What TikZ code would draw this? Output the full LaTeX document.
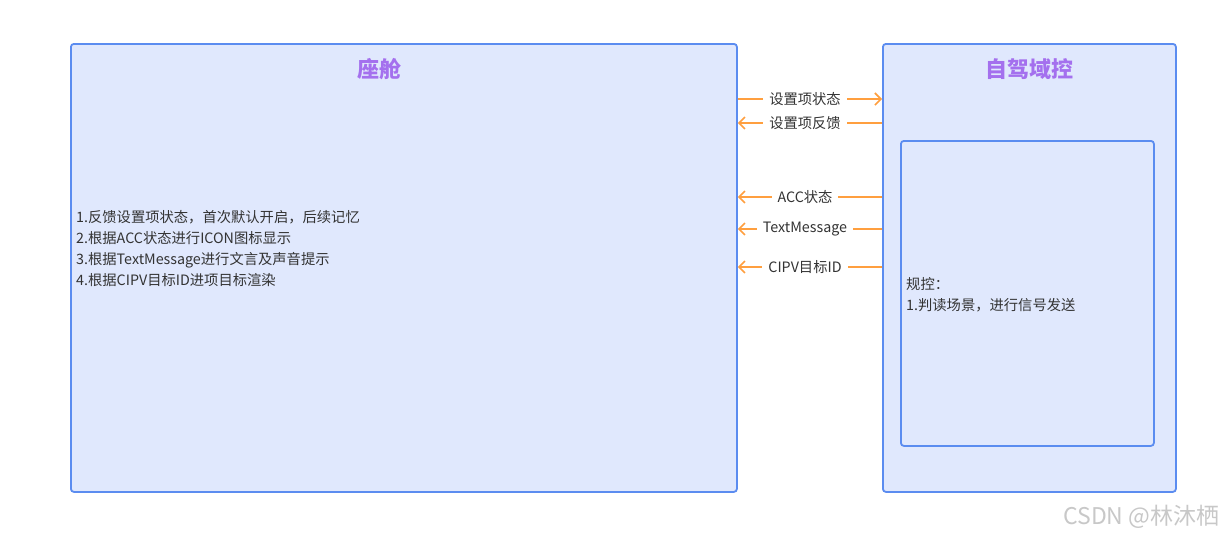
\documentclass[tikz,border=0pt]{standalone}
\usepackage{fontspec}
\setmainfont{Noto Sans CJK SC}
\newfontfamily\cjk{Noto Sans CJK SC}
\usetikzlibrary{arrows.meta}
\definecolor{boxfill}{HTML}{E0E8FD}
\definecolor{boxline}{HTML}{5B8CF0}
\definecolor{titlec}{HTML}{A470EE}
\definecolor{arrowc}{HTML}{FF9F3F}
\definecolor{txt}{HTML}{333333}
\definecolor{wm}{HTML}{C8C8C8}
\tikzset{
  panel/.style={draw=boxline,line width=1.8pt,fill=boxfill,rounded corners=3pt,inner sep=0pt,anchor=north west},
  paneltitle/.style={text=titlec,font=\cjk\fontsize{22}{26}\selectfont\bfseries},
  body/.style={text=txt,font=\cjk\fontsize{14.3}{21}\selectfont,align=left,anchor=west,inner sep=0pt},
  sig/.style={draw=arrowc,line width=1.6pt,-{Straight Barb[length=6pt,width=12pt,line width=1.6pt]}},
  siglabel/.style={fill=white,text=txt,font=\cjk\fontsize{14.3}{16}\selectfont,inner xsep=6pt,inner ysep=2pt},
}
\begin{document}
\begin{tikzpicture}[x=1pt,y=-1pt]
\useasboundingbox (0,0) rectangle (1226,536);
\fill[white] (0,0) rectangle (1226,536);
% panels
\node[panel,minimum width=666pt,minimum height=448pt] (cabin) at (70,43) {};
\node[panel,minimum width=293pt,minimum height=448pt] (adas) at (882,43) {};
\node[panel,minimum width=253pt,minimum height=305pt] (ctrl) at (900,140) {};
% titles
\node[paneltitle] (cabint) at (379,69) {座舱};
\node[paneltitle] (adast) at (1029,69) {自驾域控};
% body texts
\node[body] (cabintext) at (76,248.5) {1.反馈设置项状态，首次默认开启，后续记忆\\2.根据ACC状态进行ICON图标显示\\3.根据TextMessage进行文言及声音提示\\4.根据CIPV目标ID进项目标渲染};
\node[body] (ctrltext) at (906,295) {规控：\\1.判读场景，进行信号发送};
% signals
\draw[sig] (cabin.east |- 0,99) -- node[siglabel,pos=0.466] (l1) {设置项状态} (adas.west |- 0,99);
\draw[sig] (adas.west |- 0,123) -- node[siglabel,pos=0.534] (l2) {设置项反馈} (cabin.east |- 0,123);
\draw[sig] (adas.west |- 0,197) -- node[siglabel,pos=0.534] (l3) {ACC状态} (cabin.east |- 0,197);
\draw[sig] (adas.west |- 0,229) -- node[siglabel,pos=0.534] (l4) {TextMessage} (cabin.east |- 0,229);
\draw[sig] (adas.west |- 0,267) -- node[siglabel,pos=0.534] (l5) {CIPV目标ID} (cabin.east |- 0,267);
% watermark
\node[text=wm,font=\cjk\fontsize{23}{26}\selectfont,anchor=east] (wm) at (1223,517) {CSDN @林沐栖};
\end{tikzpicture}
\end{document}
